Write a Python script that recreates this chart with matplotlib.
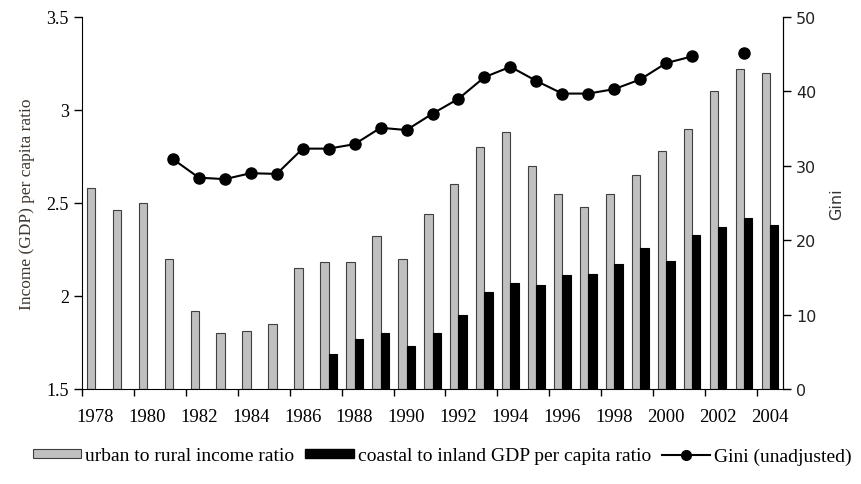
import numpy as np
import matplotlib
matplotlib.use("Agg")
import matplotlib.pyplot as plt
from matplotlib.patches import Patch
from matplotlib.lines import Line2D

years = list(range(1978, 2005))

urban_rural = [2.58, 2.46, 2.50, 2.20, 1.92, 1.80, 1.81, 1.85, 2.15, 2.18,
               2.18, 2.32, 2.20, 2.44, 2.60, 2.80, 2.88, 2.70, 2.55, 2.48,
               2.55, 2.65, 2.78, 2.90, 3.10, 3.22, 3.20]

coastal_inland = [np.nan] * 9 + [1.69, 1.77, 1.80, 1.73, 1.80, 1.90, 2.02, 2.07,
                                 2.06, 2.11, 2.12, 2.17, 2.26, 2.19, 2.33, 2.37,
                                 2.42, 2.38]

gini = [np.nan, np.nan, np.nan, 30.9, 28.4, 28.2, 29.0, 28.9, 32.3, 32.3,
        32.9, 35.1, 34.8, 37.0, 39.0, 41.9, 43.3, 41.4, 39.7, 39.7,
        40.3, 41.6, 43.8, 44.7, np.nan, 45.2, np.nan]

SERIF = "Liberation Serif"
SANS = "DejaVu Sans"


def plot_chart():
    fig = plt.figure(figsize=(8.62, 4.85), dpi=100)
    ax = fig.add_axes([0.0951, 0.196, 0.8133, 0.767])
    ax2 = ax.twinx()

    x = np.arange(len(years))
    base = 1.5
    w = 0.32
    ur = np.array(urban_rural)
    ci = np.array(coastal_inland)
    ax.bar(x - 0.16, ur - base, width=w, bottom=base, color="#c0c0c0",
           edgecolor="#404040", linewidth=0.8, zorder=2)
    mask = ~np.isnan(ci)
    ax.bar(x[mask] + 0.16, ci[mask] - base, width=w, bottom=base,
           color="black", edgecolor="black", linewidth=0.8, zorder=2)

    ax2.plot(x, gini, color="black", linewidth=1.5, marker="o",
             markersize=8, zorder=3)

    ax.set_xlim(-0.5, len(years) - 0.5)
    ax.set_ylim(1.5, 3.5)
    ax2.set_ylim(0, 50)

    ax.set_yticks([1.5, 2, 2.5, 3, 3.5])
    ax.set_yticklabels(["1.5", "2", "2.5", "3", "3.5"], fontfamily=SERIF, fontsize=13)
    ax2.set_yticks([0, 10, 20, 30, 40, 50])
    ax2.set_yticklabels(["0", "10", "20", "30", "40", "50"], fontfamily=SANS,
                        fontsize=11.5, color="#222222")

    ax.set_xticks(np.arange(-0.5, len(years) - 1, 2))
    ax.set_xticklabels([])
    ax.set_xticks(x[::2], minor=True)
    ax.set_xticklabels([str(y) for y in years[::2]], minor=True,
                       fontfamily=SERIF, fontsize=13.5)
    ax.tick_params(axis="x", which="minor", length=0, pad=14)
    ax.tick_params(axis="x", which="major", length=5, width=1, direction="out")
    ax.tick_params(axis="y", length=5.5, width=1, direction="out", pad=4)
    ax2.tick_params(axis="y", length=5.5, width=1, direction="out", pad=4)

    for a in (ax, ax2):
        a.spines["top"].set_visible(False)
    ax2.spines["left"].set_visible(False)
    ax2.spines["bottom"].set_visible(False)

    ax.set_ylabel("Income (GDP) per capita ratio", fontfamily=SERIF,
                  fontsize=12.5, color="#403830", labelpad=8)
    ax2.set_ylabel("Gini", fontfamily=SANS, fontsize=11.5, color="#333333",
                   labelpad=9)

    handles = [
        Patch(facecolor="#c0c0c0", edgecolor="#404040", linewidth=0.8),
        Patch(facecolor="black", edgecolor="black"),
        Line2D([], [], color="black", linewidth=1.5, marker="o", markersize=7),
    ]
    labels = ["urban to rural income ratio",
              "coastal to inland GDP per capita ratio",
              "Gini (unadjusted)"]
    fig.legend(handles, labels, loc="center", bbox_to_anchor=(0.513, 0.058),
               ncol=3, frameon=False, prop={"family": SERIF, "size": 14},
               handlelength=2.5, handleheight=0.4, handletextpad=0.2,
               columnspacing=0.55)

    fig.savefig("out.png", dpi=100)


def main():
    plot_chart()


if __name__ == "__main__":
    main()
